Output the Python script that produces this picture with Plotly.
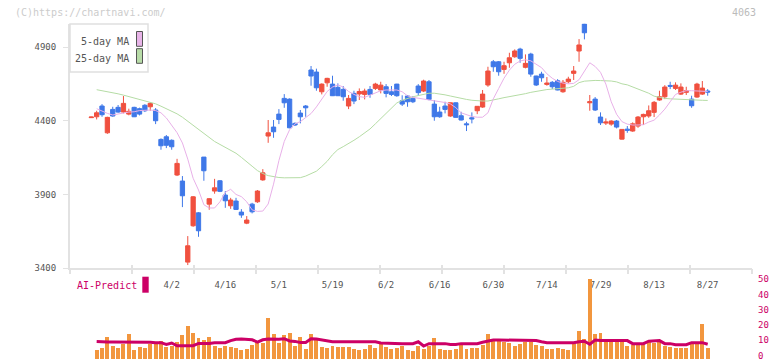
import plotly.graph_objects as go

# ---------------- data ----------------
opens = [4422, 4428, 4501, 4319, 4478, 4492, 4460, 4446, 4492, 4483,
         4506, 4496, 4474, 4274, 4292, 4268, 4032, 3991, 3440, 3687,
         3775, 4154, 3834, 3923, 3993, 3896, 3823, 3855, 3780, 3705,
         3834, 3850, 3999, 4297, 4358, 4446, 4553, 4548, 4383, 4453,
         4501, 4746, 4732, 4598, 4659, 4650, 4628, 4614, 4501, 4587,
         4583, 4580, 4614, 4621, 4610, 4632, 4598, 4650, 4537, 4569,
         4553, 4637, 4603, 4666, 4514, 4460, 4501, 4433, 4523, 4435,
         4380, 4421, 4469, 4494, 4644, 4802, 4802, 4750, 4795, 4836,
         4888, 4764, 4854, 4705, 4718, 4648, 4662, 4673, 4598, 4666,
         4723, 4875, 5058, 4523, 4548, 4426, 4385, 4378, 4399, 4276,
         4344, 4331, 4365, 4428, 4433, 4458, 4542, 4564, 4641, 4621,
         4582, 4594, 4548, 4562, 4582, 4603]
highs = [4428, 4469, 4514, 4428, 4496, 4508, 4569, 4483, 4496, 4490,
         4514, 4528, 4487, 4281, 4304, 4274, 4142, 4025, 3617, 3889,
         3780, 4154, 3875, 4006, 3998, 3923, 3877, 3877, 3800, 3753,
         3843, 3930, 4072, 4406, 4406, 4480, 4582, 4553, 4390, 4474,
         4508, 4773, 4755, 4655, 4693, 4707, 4655, 4637, 4576, 4605,
         4621, 4619, 4637, 4659, 4666, 4650, 4637, 4652, 4574, 4576,
         4569, 4650, 4680, 4678, 4542, 4496, 4530, 4525, 4525, 4462,
         4394, 4458, 4501, 4610, 4768, 4814, 4807, 4802, 4863, 4886,
         4897, 4852, 4863, 4707, 4734, 4698, 4671, 4684, 4678, 4700,
         4773, 4956, 5060, 4576, 4562, 4458, 4417, 4404, 4406, 4344,
         4365, 4390, 4433, 4449, 4505, 4535, 4605, 4643, 4666, 4662,
         4655, 4632, 4571, 4659, 4671, 4616]
lows = [4420, 4410, 4428, 4312, 4428, 4455, 4451, 4438, 4426, 4437,
        4460, 4469, 4378, 4204, 4215, 4204, 4025, 3814, 3420, 3680,
        3612, 3993, 3796, 3905, 3916, 3809, 3802, 3796, 3741, 3698,
        3771, 3843, 3993, 4251, 4285, 4378, 4489, 4350, 4365, 4383,
        4428, 4639, 4605, 4580, 4632, 4569, 4569, 4537, 4480, 4514,
        4542, 4546, 4557, 4610, 4587, 4560, 4569, 4564, 4501, 4496,
        4521, 4571, 4596, 4540, 4401, 4421, 4451, 4428, 4421, 4403,
        4331, 4383, 4446, 4489, 4632, 4734, 4707, 4720, 4761, 4829,
        4795, 4757, 4700, 4637, 4666, 4639, 4616, 4608, 4591, 4655,
        4678, 4802, 4954, 4469, 4467, 4372, 4372, 4367, 4349, 4274,
        4319, 4326, 4353, 4372, 4421, 4426, 4537, 4548, 4616, 4610,
        4576, 4576, 4489, 4557, 4576, 4571]
closes = [4426, 4455, 4442, 4424, 4433, 4460, 4519, 4465, 4428, 4446,
          4469, 4519, 4401, 4231, 4234, 4224, 4111, 3891, 3551, 3884,
          3653, 4061, 3871, 3945, 3921, 3857, 3862, 3798, 3760, 3726,
          3782, 3923, 4047, 4319, 4326, 4410, 4523, 4353, 4372, 4428,
          4489, 4705, 4625, 4650, 4689, 4571, 4571, 4564, 4553, 4535,
          4600, 4603, 4580, 4650, 4643, 4587, 4580, 4571, 4514, 4530,
          4530, 4592, 4671, 4546, 4428, 4428, 4478, 4523, 4424, 4406,
          4374, 4414, 4499, 4582, 4739, 4768, 4734, 4775, 4829, 4875,
          4825, 4791, 4718, 4644, 4693, 4657, 4632, 4610, 4662, 4684,
          4739, 4916, 4999, 4530, 4474, 4387, 4392, 4399, 4358, 4342,
          4336, 4380, 4426, 4444, 4469, 4526, 4564, 4630, 4635, 4643,
          4630, 4605, 4503, 4650, 4623, 4596]
ma5 = [None, 4483, 4465, 4451, 4440, 4448, 4455, 4460, 4462, 4470,
       4472, 4474, 4470, 4455, 4420, 4370, 4320, 4250, 4140, 4010,
       3930, 3830, 3808, 3808, 3850, 3915, 3935, 3900, 3885, 3850,
       3795, 3785, 3787, 3835, 3970, 4130, 4260, 4340, 4380, 4395,
       4420, 4450, 4495, 4550, 4600, 4630, 4645, 4630, 4600, 4580,
       4565, 4560, 4575, 4590, 4605, 4610, 4612, 4610, 4598, 4570,
       4560, 4555, 4550, 4545, 4540, 4535, 4525, 4515, 4490, 4455,
       4440, 4430, 4425, 4425, 4455, 4550, 4620, 4690, 4745, 4785,
       4807, 4815, 4808, 4785, 4762, 4720, 4690, 4668, 4657, 4652,
       4655, 4680, 4740, 4795, 4770, 4730, 4650, 4530, 4445, 4395,
       4378, 4372, 4372, 4374, 4392, 4405, 4440, 4480, 4530, 4580,
       4595, 4605, 4605, 4603, 4602, 4600]
ma25 = [None, 4612, 4606, 4600, 4593, 4584, 4575, 4566, 4556, 4546,
        4538, 4527, 4516, 4500, 4484, 4468, 4448, 4425, 4398, 4370,
        4340, 4313, 4285, 4260, 4240, 4218, 4200, 4180, 4152, 4125,
        4092, 4062, 4042, 4028, 4020, 4015, 4013, 4012, 4012, 4014,
        4025, 4040, 4058, 4090, 4125, 4170, 4205, 4225, 4245, 4268,
        4292, 4318, 4345, 4380, 4415, 4450, 4490, 4522, 4540, 4554,
        4564, 4572, 4582, 4588, 4588, 4585, 4577, 4569, 4560, 4553,
        4546, 4540, 4536, 4535, 4535, 4540, 4550, 4558, 4564, 4570,
        4576, 4585, 4594, 4602, 4608, 4613, 4616, 4619, 4622, 4625,
        4635, 4660, 4670, 4675, 4675, 4674, 4673, 4671, 4665, 4652,
        4645, 4632, 4617, 4605, 4588, 4568, 4560, 4553, 4550, 4548,
        4545, 4542, 4541, 4540, 4540, 4539]
volume = [None, 5.6, 6.9, 13.8, 8.1, 6.9, 9.6, 15.6, 5.6, 7.5,
          6.9, 9.6, 9.6, 11.2, 7.3, 7.9, 10.6, 15.0, 20.6, 16.2,
          13.1, 11.9, 13.8, 8.1, 6.9, 8.1, 7.3, 6.9, 5.6, 6.5,
          8.7, 10.8, 9.8, 25.8, 15.6, 10.2, 14.8, 16.5, 8.1, 14.0,
          6.5, 15.6, 12.3, 7.3, 6.9, 8.1, 7.3, 7.3, 7.3, 6.5,
          5.6, 6.5, 8.7, 6.9, 9.4, 7.3, 6.0, 6.7, 8.1, 5.6,
          5.2, 8.1, 6.0, 8.1, 13.1, 6.0, 5.6, 5.6, 6.0, 8.5,
          6.0, 6.7, 6.9, 8.7, 15.6, 11.9, 11.9, 10.8, 9.8, 8.1,
          9.4, 10.8, 10.8, 8.7, 8.1, 6.0, 6.0, 6.7, 6.0, 5.6,
          9.4, 17.5, 12.5, 50.0, 15.6, 16.2, 11.0, 11.0, 11.0, 11.0,
          8.1, 8.6, 8.8, 9.4, 11.3, 10.3, 10.5, 8.0, 7.5, 7.1,
          7.1, 7.1, 10.6, 10.2, 22.0, 6.9]
ai_predict = [None, 11.0, 10.7, 10.7, 10.7, 10.7, 10.7, 10.7, 10.5, 10.7,
              10.7, 10.5, 10.2, 10.2, 9.1, 10.0, 8.3, 8.3, 8.3, 8.3,
              9.7, 9.7, 9.7, 10.2, 10.2, 10.2, 11.5, 12.3, 12.5, 12.3,
              12.0, 10.6, 12.0, 12.5, 12.3, 12.3, 12.7, 11.3, 11.0, 10.3,
              10.3, 12.7, 12.5, 11.9, 11.5, 10.8, 10.8, 10.8, 10.8, 10.8,
              10.8, 10.8, 10.8, 10.8, 10.0, 9.8, 9.6, 9.6, 9.6, 9.6,
              9.6, 10.8, 8.1, 9.6, 9.6, 9.6, 9.6, 9.0, 9.0, 9.6,
              9.6, 9.6, 9.6, 10.5, 11.1, 11.9, 11.9, 11.9, 11.9, 11.5,
              11.5, 11.5, 11.5, 11.5, 10.8, 10.2, 10.2, 10.2, 10.2, 10.2,
              10.2, 10.8, 11.1, 9.2, 11.9, 11.5, 11.5, 11.5, 11.5, 11.5,
              11.5, 9.6, 9.6, 9.6, 11.1, 11.5, 11.5, 9.6, 9.6, 8.9,
              8.9, 8.9, 10.2, 10.2, 10.2, 9.2]
date_labels = ["4/2", "4/16", "5/1", "5/19", "6/2", "6/16",
               "6/30", "7/14", "7/29", "8/13", "8/27"]
date_label_pos = [15, 25, 35, 45, 55, 65, 75, 85, 95, 105, 115]
price_ticks = [3400, 3900, 4400, 4900]
ai_ticks = [0, 10, 20, 30, 40, 50]

x = list(range(len(opens)))

# ---------------- styling ----------------
W, H = 772, 361
MONO = "DejaVu Sans Mono, Liberation Mono, monospace"
RED = "#f0503f"
BLUE = "#3f78e8"
AXIS = "#e2e2e2"
MAGENTA = "#cc0066"


def px(v):
    return v / W


def py(v):
    return 1 - v / H


fig = go.Figure()

fig.add_trace(go.Scatter(x=x, y=ma25, mode="lines",
                         line=dict(color="#b5dca5", width=1),
                         hoverinfo="skip", xaxis="x", yaxis="y"))
fig.add_trace(go.Scatter(x=x, y=ma5, mode="lines",
                         line=dict(color="#e8b0e8", width=1),
                         hoverinfo="skip", xaxis="x", yaxis="y"))
fig.add_trace(go.Candlestick(
    x=x, open=opens, high=highs, low=lows, close=closes,
    increasing=dict(line=dict(color=RED, width=1), fillcolor=RED),
    decreasing=dict(line=dict(color=BLUE, width=1), fillcolor=BLUE),
    whiskerwidth=0, xaxis="x", yaxis="y"))

fig.add_trace(go.Bar(x=x, y=volume, marker=dict(color="#f2963e", line=dict(width=0)),
                     width=0.74, xaxis="x", yaxis="y2"))
fig.add_trace(go.Scatter(x=x, y=ai_predict, mode="lines",
                         line=dict(color=MAGENTA, width=3),
                         xaxis="x", yaxis="y2"))
# invisible traces so the tick-only overlay axes are drawn
fig.add_trace(go.Scatter(x=[0], y=[3400], mode="markers", marker=dict(opacity=0),
                         xaxis="x2", yaxis="y", hoverinfo="skip"))
fig.add_trace(go.Scatter(x=[0], y=[3400], mode="markers", marker=dict(opacity=0),
                         xaxis="x3", yaxis="y", hoverinfo="skip"))
fig.add_trace(go.Scatter(x=[0], y=[0], mode="markers", marker=dict(opacity=0),
                         xaxis="x", yaxis="y3", hoverinfo="skip"))

x_lo = (70 - 91.3) / 5.36
x_hi = (752 - 91.3) / 5.36

fig.update_layout(
    width=W, height=H,
    margin=dict(l=0, r=0, t=0, b=0, autoexpand=False),
    paper_bgcolor="white", plot_bgcolor="white",
    showlegend=False,
    boxgap=0.2, boxgroupgap=0,
    bargap=0,
    xaxis=dict(domain=[px(70), px(752)], range=[x_lo, x_hi], anchor="y",
               showline=True, linecolor=AXIS, linewidth=2,
               showgrid=False, zeroline=False, ticks="",
               tickvals=date_label_pos, ticktext=date_labels,
               tickfont=dict(family=MONO, size=9, color="#555555"),
               ticklabelstandoff=7, ticklabeloverflow="allow",
               rangeslider=dict(visible=False), fixedrange=True),
    xaxis2=dict(overlaying="x", anchor="y", range=[0, 11], tickvals=list(range(12)),
                ticks="outside", ticklen=5, tickwidth=2, tickcolor=AXIS,
                showticklabels=False, showline=False, showgrid=False, zeroline=False),
    xaxis3=dict(overlaying="x", anchor="y", range=[0, 11], tickvals=list(range(12)),
                ticks="inside", ticklen=3, tickwidth=2, tickcolor=AXIS,
                showticklabels=False, showline=False, showgrid=False, zeroline=False),
    yaxis=dict(domain=[py(268), py(23.5)], range=[3400, 5062], anchor="x",
               showline=True, linecolor=AXIS, linewidth=2,
               showgrid=False, zeroline=False,
               tickvals=price_ticks, ticks="outside", ticklen=5, tickcolor=AXIS,
               tickfont=dict(family=MONO, size=9, color="#555555"),
               ticklabelstandoff=5),
    # data axis of the lower panel (no labels)
    yaxis2=dict(domain=[py(359.0), py(279.0)], range=[0, 50], anchor="free",
                position=px(752), side="right", showline=False,
                showgrid=False, zeroline=False, ticks="", showticklabels=False),
    # label-only overlay axis of the lower panel, nudged so "0" stays inside the page
    yaxis3=dict(overlaying="y2", range=[-2.3, 50.1], anchor="free",
                position=px(752), side="right", showline=False,
                showgrid=False, zeroline=False, ticks="",
                tickvals=ai_ticks, ticklabeloverflow="allow",
                tickfont=dict(family=MONO, size=9, color=MAGENTA),
                ticklabelstandoff=5),
)

shapes = [
    dict(type="rect", xref="paper", yref="paper", x0=px(70), x1=px(148),
         y0=py(72), y1=py(24), line=dict(color="#e0e0e0", width=1.5),
         fillcolor="white", layer="above"),
    dict(type="rect", xref="paper", yref="paper", x0=px(136.5), x1=px(142.5),
         y0=py(46.3), y1=py(31.5), line=dict(color="#555555", width=1),
         fillcolor="#e8b4e8", layer="above"),
    dict(type="rect", xref="paper", yref="paper", x0=px(136.5), x1=px(142.5),
         y0=py(63.3), y1=py(48.7), line=dict(color="#555555", width=1),
         fillcolor="#b8dca8", layer="above"),
    dict(type="rect", xref="paper", yref="paper", x0=px(142.3), x1=px(148.7),
         y0=py(292.7), y1=py(276.7), line=dict(width=0),
         fillcolor=MAGENTA, layer="above"),
]
annotations = [
    dict(text="(C)https://chartnavi.com/", x=px(13), y=py(12.3), xref="paper", yref="paper",
         xanchor="left", yanchor="middle", showarrow=False,
         font=dict(family=MONO, size=10, color="#cccccc")),
    dict(text="4063", x=px(758), y=py(12.3), xref="paper", yref="paper",
         xanchor="right", yanchor="middle", showarrow=False,
         font=dict(family=MONO, size=10, color="#bbbbbb")),
    dict(text="5-day MA", x=px(130.5), y=py(41.5), xref="paper", yref="paper",
         xanchor="right", yanchor="middle", showarrow=False,
         font=dict(family=MONO, size=10, color="#555555")),
    dict(text="25-day MA", x=px(130.5), y=py(58), xref="paper", yref="paper",
         xanchor="right", yanchor="middle", showarrow=False,
         font=dict(family=MONO, size=10, color="#555555")),
    dict(text="AI-Predict", x=px(75), y=py(285.7), xref="paper", yref="paper",
         xanchor="left", yanchor="middle", showarrow=False,
         font=dict(family=MONO, size=10, color=MAGENTA)),
]
fig.update_layout(shapes=shapes, annotations=annotations)

fig.write_html(
    "out.html",
    config={"displayModeBar": False, "responsive": False},
    post_script="document.body.style.margin='0';document.body.style.padding='0';"
                "document.documentElement.style.overflow='hidden';",
)
